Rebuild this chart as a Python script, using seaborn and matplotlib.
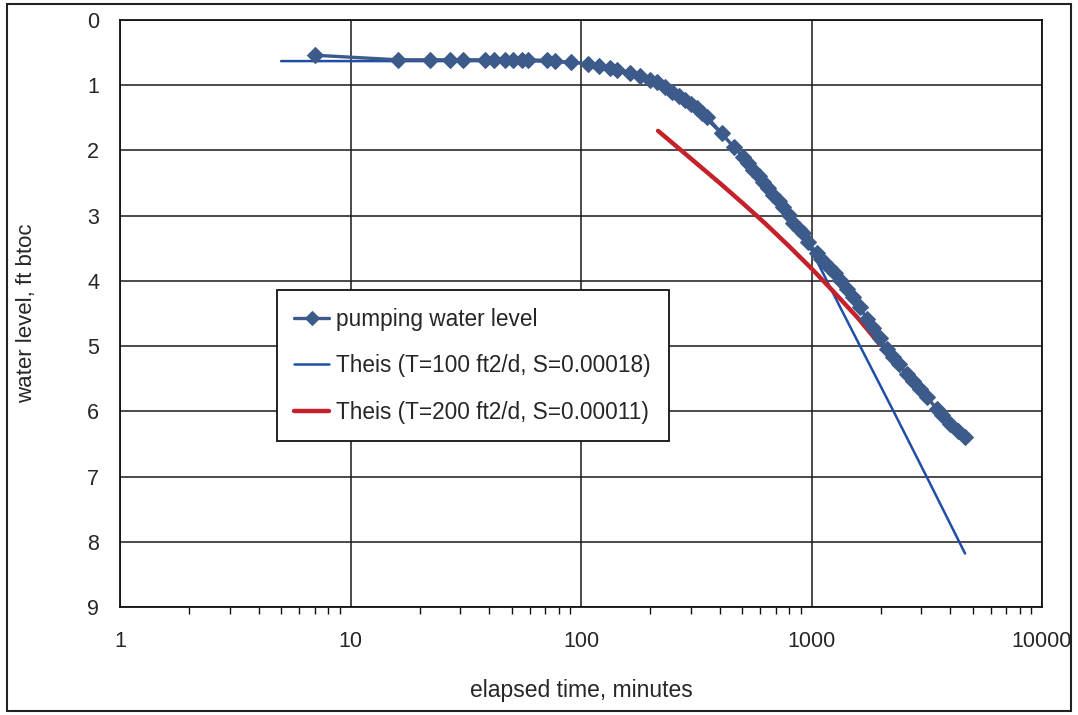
import matplotlib
matplotlib.use("Agg")
import matplotlib.pyplot as plt
import seaborn as sns
import pandas as pd
import numpy as np
from matplotlib.ticker import LogLocator, FixedLocator, NullFormatter
from matplotlib.patches import Rectangle

# ---- data ----
pump_t = [7.0, 16.0, 22.1, 27, 30.9, 38.3, 42, 46.8, 50.9, 55.3, 59, 71, 77, 90.5,
          107.7, 120, 133, 143, 163, 180, 199, 213, 231, 247, 265, 283, 300, 318, 335, 351,
          408, 461, 506, 530, 560, 590, 619, 650, 683, 720, 755, 795, 834, 880, 921, 968,
          1052, 1100, 1150, 1202, 1260, 1330, 1422, 1518, 1620, 1735, 1850, 1980, 2118,
          2250, 2400, 2589, 2750, 2950, 3162, 3493, 3700, 3990, 4300, 4637]
pump_y = [0.54, 0.61, 0.61, 0.61, 0.61, 0.61, 0.61, 0.61, 0.61, 0.61, 0.61, 0.62, 0.63, 0.65,
          0.67, 0.70, 0.74, 0.76, 0.81, 0.86, 0.92, 0.95, 1.02, 1.10, 1.17, 1.23, 1.29, 1.35, 1.42, 1.48,
          1.74, 1.95, 2.10, 2.19, 2.30, 2.39, 2.48, 2.58, 2.68, 2.77, 2.86, 2.99, 3.12, 3.20, 3.27, 3.40,
          3.58, 3.66, 3.72, 3.80, 3.88, 3.99, 4.12, 4.24, 4.40, 4.58, 4.72, 4.88, 5.04,
          5.16, 5.28, 5.42, 5.54, 5.66, 5.78, 5.96, 6.06, 6.19, 6.30, 6.39]

theis100_t = [5, 10, 30, 60, 100, 150, 200, 250, 300, 400, 500, 700, 1000, 1330, 1680, 2300, 3240, 4637]
theis100_y = [0.63, 0.63, 0.63, 0.63, 0.66, 0.76, 0.92, 1.10, 1.28, 1.72, 2.08, 2.78, 3.53, 4.40, 5.10, 6.04, 7.08, 8.18]

theis200_t = [216, 260, 320, 400, 500, 630, 800, 1000, 1250, 1600, 1983]
theis200_y = [1.70, 1.94, 2.21, 2.50, 2.80, 3.12, 3.47, 3.81, 4.17, 4.58, 4.98]

labels = ["pumping water level",
          "Theis (T=100 ft2/d, S=0.00018)",
          "Theis (T=200 ft2/d, S=0.00011)"]
x_ticks = [1, 10, 100, 1000, 10000]
y_ticks = list(range(0, 10))

sns.set_style("white")
plt.rcParams['font.family'] = ['Liberation Sans', 'DejaVu Sans']

fig = plt.figure(figsize=(10.78, 7.15), dpi=100)
ax = fig.add_axes([120/1078, 1-607/715, (1042-120)/1078, (607-20)/715])

df_p = pd.DataFrame({"t": pump_t, "y": pump_y})
df_b = pd.DataFrame({"t": theis100_t, "y": theis100_y})
df_r = pd.DataFrame({"t": theis200_t, "y": theis200_y})

c_pump = "#3d5b8a"
c_blue = "#1f4ea6"
c_red = "#c4212b"

sns.lineplot(data=df_b, x="t", y="y", ax=ax, sort=False, color=c_blue, lw=1.8,
             label=labels[1], zorder=3)
sns.lineplot(data=df_r, x="t", y="y", ax=ax, sort=False, color=c_red, lw=3.2,
             label=labels[2], zorder=3)
sns.lineplot(data=df_p, x="t", y="y", ax=ax, sort=False, color=c_pump, lw=2.4,
             marker="D", markersize=8.5, markeredgecolor=c_pump, label=labels[0], zorder=4)

ax.set_xscale("log")
ax.set_xlim(1, 10000)
ax.set_ylim(9, 0)
ax.xaxis.set_major_locator(FixedLocator(x_ticks))
ax.set_xticklabels([str(v) for v in x_ticks])
ax.xaxis.set_minor_locator(LogLocator(base=10, subs=np.arange(2, 10)))
ax.xaxis.set_minor_formatter(NullFormatter())
ax.yaxis.set_major_locator(FixedLocator(y_ticks))
ax.set_yticklabels([str(v) for v in y_ticks])

ax.grid(True, which="major", axis="both", color="#1a1a1a", lw=1.1)
ax.set_axisbelow(True)
for s in ax.spines.values():
    s.set_visible(True)
    s.set_color("#111111")
    s.set_linewidth(1.3)

ax.tick_params(axis="both", which="major", direction="out", length=7, width=1.0,
               color="#111111", labelsize=15.5)
ax.tick_params(axis="x", which="minor", direction="out", length=5, width=1.0,
               color="#111111", bottom=True)
ax.tick_params(axis="x", which="major", pad=10)
ax.tick_params(axis="y", which="major", pad=8)

ax.set_xlabel("elapsed time, minutes", fontsize=16.5, labelpad=20)
ax.set_ylabel("water level, ft btoc", fontsize=16, labelpad=36)

handles, labs = ax.get_legend_handles_labels()
order = [labs.index(l) for l in labels]
leg = ax.legend([handles[i] for i in order], [labs[i] for i in order],
                loc="upper left", bbox_to_anchor=(0.170, 0.540), borderaxespad=0,
                fontsize=16.3, frameon=True, fancybox=False, framealpha=1,
                edgecolor="#111111", labelspacing=1.04, handlelength=1.55,
                handletextpad=0.3, borderpad=0.78, markerscale=0.85)
leg.get_frame().set_linewidth(1.3)

# outer border of the chart page
fig.patches.append(Rectangle((7/1078, 4/715), 1064/1078, 707/715, transform=fig.transFigure,
                             fill=False, edgecolor="#222222", lw=1.5))

fig.savefig("out.png", dpi=100)
